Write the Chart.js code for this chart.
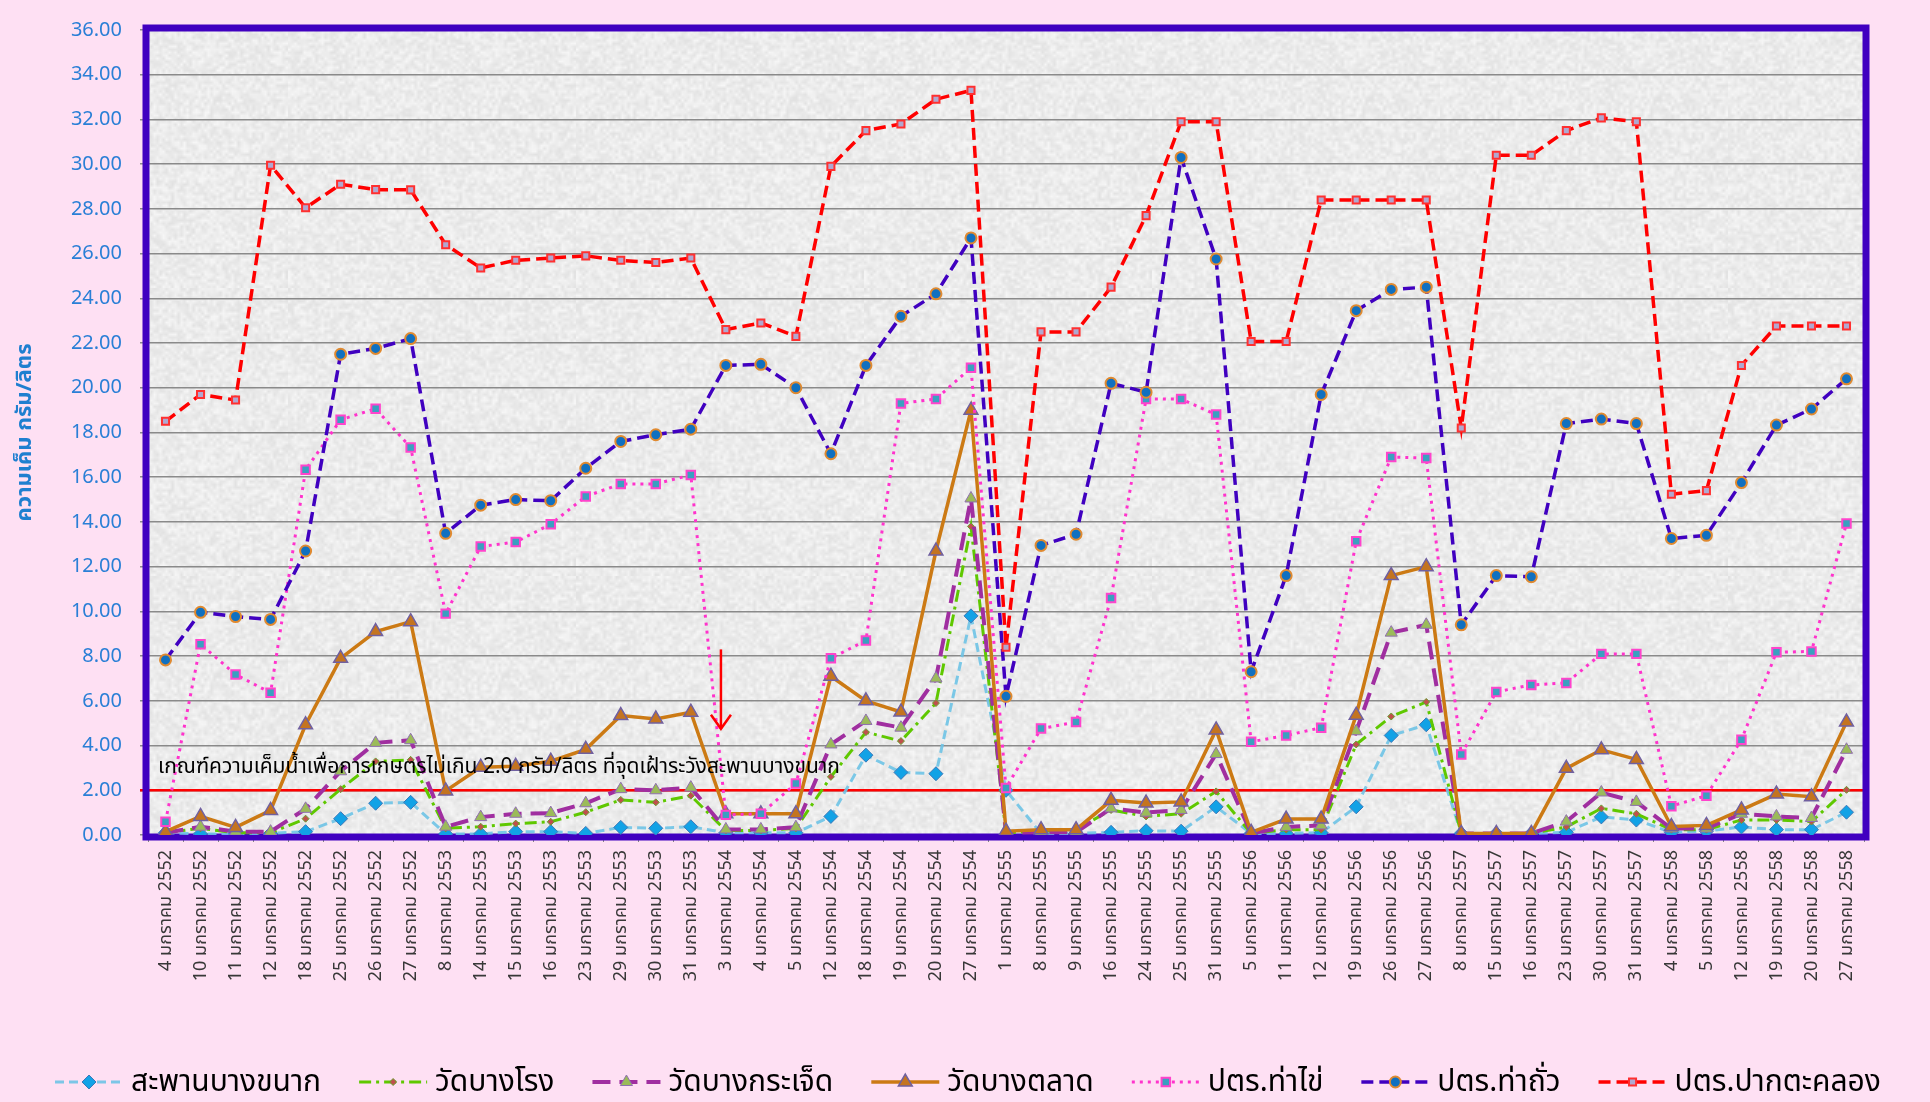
<!DOCTYPE html>
<html>
<head>
<meta charset="utf-8">
<script src="https://cdn.jsdelivr.net/npm/chart.js@4.4.0/dist/chart.umd.min.js"></script>
<style>
html,body{margin:0;padding:0;background:#fee0f3;}
canvas{display:block;}
</style>
</head>
<body>
<canvas id="c" width="1930" height="1102" style="width:1930px;height:1102px"></canvas>
<script>
const categories = [
 "4 มกราคม 2552","10 มกราคม 2552","11 มกราคม 2552","12 มกราคม 2552","18 มกราคม 2552","25 มกราคม 2552","26 มกราคม 2552","27 มกราคม 2552",
 "8 มกราคม 2553","14 มกราคม 2553","15 มกราคม 2553","16 มกราคม 2553","23 มกราคม 2553","29 มกราคม 2553","30 มกราคม 2553","31 มกราคม 2553",
 "3 มกราคม 2554","4 มกราคม 2554","5 มกราคม 2554","12 มกราคม 2554","18 มกราคม 2554","19 มกราคม 2554","20 มกราคม 2554","27 มกราคม 2554",
 "1 มกราคม 2555","8 มกราคม 2555","9 มกราคม 2555","16 มกราคม 2555","24 มกราคม 2555","25 มกราคม 2555","31 มกราคม 2555",
 "5 มกราคม 2556","11 มกราคม 2556","12 มกราคม 2556","19 มกราคม 2556","26 มกราคม 2556","27 มกราคม 2556",
 "8 มกราคม 2557","15 มกราคม 2557","16 มกราคม 2557","23 มกราคม 2557","30 มกราคม 2557","31 มกราคม 2557",
 "4 มกราคม 2558","5 มกราคม 2558","12 มกราคม 2558","19 มกราคม 2558","20 มกราคม 2558","27 มกราคม 2558"
];
const yTicks = [0,2,4,6,8,10,12,14,16,18,20,22,24,26,28,30,32,34,36];

const sapanBangKhanak = [0.10,0.05,0.05,0.07,0.15,0.73,1.42,1.46, 0.05,0.05,0.15,0.15,0.07,0.34,0.30,0.37, 0.10,0.10,0.10,0.83,3.57,2.80,2.74,9.80, 2.00,0.07,0.07,0.12,0.19,0.17,1.26, 0.07,0.07,0.10,1.26,4.45,4.93, 0.07,0.07,0.07,0.12,0.81,0.67, 0.12,0.17,0.36,0.24,0.24,1.02];
const watBangRong = [0.10,0.30,0.10,0.10,0.73,2.05,3.29,3.36, 0.30,0.37,0.51,0.59,1.02,1.57,1.46,1.76, 0.20,0.20,0.30,2.60,4.60,4.20,5.90,13.80, 0.10,0.17,0.24,1.12,0.83,0.95,1.95, 0.07,0.24,0.24,4.05,5.30,5.95, 0.07,0.07,0.07,0.36,1.19,0.95, 0.24,0.24,0.67,0.67,0.60,2.02];
const watBangKrachet = [0.10,0.37,0.15,0.15,1.17,2.85,4.12,4.24, 0.37,0.80,0.95,0.98,1.42,2.05,2.00,2.12, 0.25,0.25,0.35,4.05,5.10,4.80,7.00,15.05, 0.10,0.12,0.12,1.19,1.00,1.12,3.62, 0.07,0.36,0.43,4.64,9.05,9.40, 0.07,0.07,0.07,0.60,1.90,1.48, 0.29,0.29,0.95,0.83,0.76,3.81];
const watBangTalat = [0.15,0.83,0.34,1.10,4.93,7.90,9.10,9.54, 1.97,3.03,3.07,3.30,3.83,5.34,5.19,5.49, 0.95,0.95,0.95,7.10,6.00,5.50,12.70,19.00, 0.17,0.24,0.24,1.55,1.43,1.48,4.70, 0.12,0.71,0.71,5.36,11.60,12.00, 0.07,0.07,0.07,2.98,3.81,3.38, 0.38,0.43,1.12,1.83,1.71,5.05];
const thaKhai = [0.59,8.53,7.18,6.36,16.33,18.57,19.06,17.33, 9.90,12.90,13.10,13.90,15.14,15.70,15.70,16.10, 0.90,0.95,2.30,7.90,8.70,19.30,19.50,20.90, 2.10,4.76,5.05,10.60,19.50,19.50,18.80, 4.17,4.45,4.80,13.14,16.90,16.86, 3.60,6.40,6.71,6.80,8.10,8.10, 1.29,1.76,4.26,8.17,8.21,13.93];
const thaThua = [7.83,9.96,9.77,9.64,12.70,21.50,21.76,22.20, 13.49,14.75,15.00,14.95,16.40,17.60,17.90,18.15, 21.00,21.05,20.00,17.05,21.00,23.20,24.20,26.70, 6.20,12.95,13.45,20.20,19.80,30.30,25.76, 7.30,11.60,19.70,23.45,24.40,24.50, 9.40,11.60,11.55,18.40,18.60,18.40, 13.26,13.40,15.76,18.33,19.05,20.40];
const pakTaKhlong = [18.50,19.70,19.45,29.95,28.05,29.10,28.86,28.85, 26.40,25.36,25.70,25.80,25.90,25.70,25.60,25.80, 22.60,22.90,22.30,29.90,31.50,31.80,32.90,33.30, 8.40,22.50,22.50,24.50,27.70,31.90,31.90, 22.07,22.07,28.40,28.40,28.40,28.40, 18.20,30.40,30.40,31.50,32.07,31.90, 15.24,15.40,21.00,22.76,22.76,22.76];

const seriesNames = ["สะพานบางขนาก","วัดบางโรง","วัดบางกระเจ็ด","วัดบางตลาด","ปตร.ท่าไข่","ปตร.ท่าถั่ว","ปตร.ปากตะคลอง"];
const threshold = 2.0;
const noteText = "เกณฑ์ความเค็มน้ำเพื่อการเกษตรไม่เกิน 2.0 กรัม/ลิตร ที่จุดเฝ้าระวังสะพานบางขนาก";
const yTitle = "ความเค็ม กรัม/ลิตร";

const FONT = '"Noto Sans", "Noto Sans Thai", "Noto Sans Thai UI", "Leelawadee UI", Sarabun, Kanit, Prompt, "IBM Plex Sans Thai", Tahoma, sans-serif';

const styles = [
 {line:'rgba(110,195,230,0.9)', w:3, dash:[9,5], ps:'rectRot', r:7, fill:'#12a2e6', border:'#3c78b8', bw:1},
 {line:'#5fc800', w:3, dash:[12,5,3,5], ps:'rectRot', r:3.5, fill:'#c0504d', border:'#6aa030', bw:1},
 {line:'#a02ea0', w:4, dash:[18,9], ps:'triangle', r:7, fill:'#9bbb59', border:'#9070b0', bw:1},
 {line:'#cc7a14', w:3.5, dash:[], ps:'triangle', r:8, fill:'#c47420', border:'#7060a0', bw:1.5},
 {line:'#ff33cc', w:3, dash:[3,5], ps:'rect', r:6, fill:'#3aa0c0', border:'#ff44cc', bw:2},
 {line:'#4000c0', w:3.5, dash:[12,6], ps:'circle', r:5.5, fill:'#1070c0', border:'#e08a30', bw:2},
 {line:'#ff0000', w:3.5, dash:[12,6], ps:'rect', r:5, fill:'#b0a8d0', border:'#ff3030', bw:2}
];
const seriesData = [sapanBangKhanak, watBangRong, watBangKrachet, watBangTalat, thaKhai, thaThua, pakTaKhlong];

const datasets = seriesData.map((d,i)=>({
  label: seriesNames[i],
  data: d,
  borderColor: styles[i].line,
  backgroundColor: styles[i].fill,
  borderWidth: styles[i].w,
  borderDash: styles[i].dash,
  tension: 0,
  fill: false,
  pointStyle: styles[i].ps,
  pointRadius: styles[i].r,
  pointBackgroundColor: styles[i].fill,
  pointBorderColor: styles[i].border,
  pointBorderWidth: styles[i].bw,
  order: seriesData.length - i
}));

// subtle marble-like texture for the plot background (decoration only)
function makeTexture(){
  const small = document.createElement('canvas'); small.width = 96; small.height = 96;
  const sc = small.getContext('2d');
  const img = sc.createImageData(96,96);
  for(let j=0;j<96;j++) for(let i=0;i<96;i++){
    const h = Math.abs(Math.sin(i*12.9898 + j*78.233) * 43758.5453) % 1;
    const v = Math.round(236 + (h-0.5)*20);
    const k = (j*96+i)*4;
    img.data[k]=v; img.data[k+1]=v; img.data[k+2]=v; img.data[k+3]=255;
  }
  sc.putImageData(img,0,0);
  const big = document.createElement('canvas'); big.width = 288; big.height = 288;
  const bc = big.getContext('2d');
  bc.imageSmoothingEnabled = true;
  bc.drawImage(small,0,0,288,288);
  return big;
}
const textureCanvas = makeTexture();

const decor = {
  id:'decor',
  beforeDraw(chart){
    const {ctx, chartArea:a} = chart;
    ctx.save();
    ctx.fillStyle = '#fee0f3';
    ctx.fillRect(0,0,chart.width,chart.height);
    ctx.fillStyle = ctx.createPattern(textureCanvas,'repeat');
    ctx.fillRect(a.left, a.top, a.right-a.left, a.bottom-a.top);
    ctx.restore();
  },
  beforeDatasetsDraw(chart){
    const {ctx, chartArea:a, scales:{y}} = chart;
    ctx.save();
    const ty = y.getPixelForValue(threshold);
    ctx.strokeStyle = '#ff0000'; ctx.lineWidth = 2.5;
    ctx.beginPath(); ctx.moveTo(a.left-8, ty); ctx.lineTo(a.right, ty); ctx.stroke();
    ctx.strokeStyle = '#4000c0'; ctx.lineWidth = 7;
    ctx.strokeRect(a.left-2, a.top-2, a.right-a.left+4, a.bottom-a.top+4);
    ctx.restore();
  },
  afterDatasetsDraw(chart){
    const {ctx, chartArea:a, scales:{x,y}} = chart;
    ctx.save();
    ctx.fillStyle = '#000';
    ctx.font = '21px ' + FONT;
    ctx.textBaseline = 'middle';
    ctx.fillText(noteText, a.left + 10, y.getPixelForValue(3.05));
    const x0 = x.getPixelForValue(15), x1 = x.getPixelForValue(16);
    const ax = x0 + (x1-x0)*0.86;
    const yTop = y.getPixelForValue(8.3), yBot = y.getPixelForValue(4.75);
    ctx.strokeStyle = '#ff0000'; ctx.lineWidth = 2.5;
    ctx.beginPath(); ctx.moveTo(ax, yTop); ctx.lineTo(ax, yBot); ctx.stroke();
    ctx.beginPath(); ctx.moveTo(ax-10, yBot-14); ctx.lineTo(ax, yBot); ctx.lineTo(ax+10, yBot-14); ctx.stroke();
    ctx.restore();
  },
  afterDraw(chart){
    const {ctx} = chart;
    ctx.save();
    ctx.font = '30px ' + FONT;
    ctx.textBaseline = 'middle';
    const cy = 1082, lineLen = 68, gapText = 8, gapItem = 38;
    let cx = 55;
    chart.data.datasets.forEach((ds)=>{
      ctx.save();
      ctx.strokeStyle = ds.borderColor;
      ctx.lineWidth = ds.borderWidth;
      ctx.setLineDash(ds.borderDash || []);
      ctx.beginPath(); ctx.moveTo(cx, cy); ctx.lineTo(cx+lineLen, cy); ctx.stroke();
      ctx.setLineDash([]);
      ctx.fillStyle = ds.pointBackgroundColor;
      ctx.strokeStyle = ds.pointBorderColor;
      ctx.lineWidth = ds.pointBorderWidth;
      Chart.helpers.drawPoint(ctx, {pointStyle: ds.pointStyle, radius: ds.pointRadius, rotation: 0, borderWidth: ds.pointBorderWidth}, cx+lineLen/2, cy);
      ctx.restore();
      ctx.fillStyle = '#000';
      ctx.fillText(ds.label, cx+lineLen+gapText, cy);
      cx += lineLen + gapText + ctx.measureText(ds.label).width + gapItem;
    });
    ctx.restore();
  }
};

new Chart(document.getElementById('c'), {
  type:'line',
  data:{labels: categories, datasets},
  plugins:[decor],
  options:{
    responsive:false, animation:false, devicePixelRatio:1,
    layout:{padding:{top:17, right:66, bottom:92, left:0}},
    plugins:{legend:{display:false}, tooltip:{enabled:false}},
    scales:{
      x:{
        type:'category', offset:true,
        grid:{display:true, drawOnChartArea:false, drawTicks:true, tickLength:7, color:'#888', offset:true},
        border:{display:false},
        ticks:{minRotation:90, maxRotation:90, autoSkip:false, padding:8, color:'#383838', font:{size:18, family:FONT}},
        afterFit(s){ s.height = 175; }
      },
      y:{
        min:0, max:36,
        afterBuildTicks(s){ s.ticks = yTicks.map(v=>({value:v})); },
        ticks:{color:'#2a7fd6', padding:18, font:{size:20, family:FONT}, callback:v=>Number(v).toFixed(2)},
        grid:{color:'#8a8a8a', lineWidth:1.5, tickLength:8, drawTicks:true},
        border:{display:false},
        title:{display:true, text:yTitle, color:'#1f7fd0', font:{size:22, weight:'bold', family:FONT}, padding:{top:12,bottom:0}},
        afterFit(s){ s.width = 148; }
      }
    }
  }
});
</script>
</body>
</html>
